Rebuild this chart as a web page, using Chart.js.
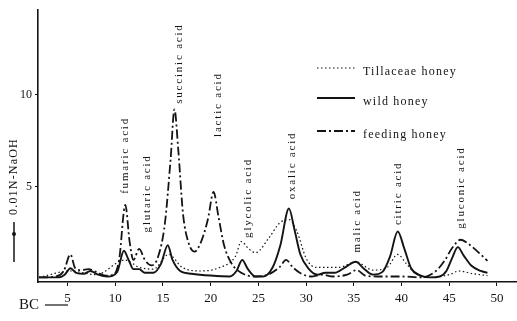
<!DOCTYPE html>
<html>
<head>
<meta charset="utf-8">
<script src="https://cdn.jsdelivr.net/npm/chart.js@4.4.0/dist/chart.umd.min.js"></script>
<style>
  body { margin: 0; background: #fff; }
  canvas { display: block; }
</style>
</head>
<body>
<canvas id="acidChart" width="517" height="321"></canvas>
<script>
// elution volume (x) and titration value (y, ml 0.01N NaOH)
const feedX = [2, 3.8, 4.6, 5.3, 5.8, 6.4, 7.2, 8, 9, 9.8, 10.4, 11.05, 11.5, 11.9, 12.5, 13.1, 13.8, 14.5, 15.2, 15.8, 16.2, 16.6, 17.1, 17.7, 18.3, 19, 19.7, 20.3, 20.8, 21.4, 22.2, 23.2, 24.5, 26, 27.2, 27.9, 28.6, 29.5, 30.5, 31.7, 32.8, 34.3, 35.3, 36.2, 37.5, 40, 42, 43.5, 44.5, 45.3, 46.2, 47.2, 48.3, 49];
const feedY = [0.05, 0.1, 0.4, 1.3, 0.55, 0.45, 0.5, 0.35, 0.15, 0.2, 1.0, 4.0, 2.0, 1.0, 1.6, 1.0, 0.7, 1.2, 3.0, 6.5, 9.2, 7.0, 3.5, 1.9, 1.45, 2.0, 3.2, 4.7, 3.4, 1.8, 0.8, 0.3, 0.1, 0.2, 0.6, 1.0, 0.6, 0.25, 0.1, 0.2, 0.1, 0.2, 0.45, 0.15, 0.1, 0.1, 0.05, 0.35, 0.95, 1.65, 2.1, 1.8, 1.3, 0.95];

const wildX = [2, 4, 4.7, 5.3, 5.9, 6.7, 7.4, 8.2, 9.2, 10.2, 10.9, 11.4, 11.9, 12.5, 13.1, 14, 14.8, 15.5, 16, 16.8, 18, 20, 22, 22.7, 23.3, 23.9, 24.7, 25.5, 26.5, 27.3, 28.2, 28.8, 29.4, 30.3, 31.2, 32, 33, 34.1, 35.2, 36, 37, 38, 38.8, 39.6, 40.3, 41, 42, 43, 44, 44.7, 45.3, 45.9, 46.5, 47.3, 48.3, 49];
const wildY = [0.05, 0.05, 0.2, 0.55, 0.3, 0.25, 0.4, 0.2, 0.1, 0.35, 1.5, 1.0, 0.5, 0.5, 0.3, 0.3, 0.8, 1.8, 1.0, 0.4, 0.25, 0.15, 0.1, 0.4, 1.0, 0.5, 0.1, 0.1, 0.6, 1.8, 3.8, 2.6, 1.3, 0.5, 0.2, 0.3, 0.3, 0.6, 0.9, 0.55, 0.2, 0.35, 1.2, 2.55, 1.6, 0.55, 0.15, 0.05, 0.1, 0.4, 1.1, 1.7, 1.25, 0.7, 0.4, 0.3];

const tiliaX = [2, 5.3, 8, 11, 12.5, 14, 15.6, 17, 19, 21, 22.6, 23.2, 24, 24.7, 26.1, 27.2, 28.2, 29, 30, 31, 32, 33.5, 35.2, 37, 38.5, 39.6, 40.5, 41.5, 43, 45, 46, 47.5, 49];
const tiliaY = [0.05, 0.4, 0.2, 1.0, 0.6, 0.5, 1.3, 0.6, 0.4, 0.6, 1.2, 2.0, 1.6, 1.4, 2.2, 3.0, 3.2, 2.6, 1.1, 0.6, 0.6, 0.6, 0.9, 0.45, 0.6, 1.3, 0.8, 0.25, 0.05, 0.2, 0.4, 0.25, 0.15];

const seriesNames = ['Tillaceae honey', 'wild honey', 'feeding honey'];

const acidNames = ['fumaric acid', 'glutaric acid', 'succinic acid', 'lactic acid', 'glycolic acid', 'oxalic acid', 'malic acid', 'citric acid', 'gluconic acid'];
const acidX = [11.0, 13.3, 16.7, 20.8, 23.9, 28.5, 35.3, 39.6, 46.2];
const acidY = [4.6, 2.5, 9.5, 7.7, 2.2, 4.3, 1.4, 2.9, 2.7];

const xTicks = [5, 10, 15, 20, 25, 30, 35, 40, 45, 50];
const yTicks = [5, 10];

const ink = '#141414';
const serif = "'Liberation Serif', 'DejaVu Serif', serif";

function pts(xs, ys) {
    return xs.map((x, i) => ({ x: x, y: ys[i] }));
}

const acidLabels = {
    id: 'acidLabels',
    afterDatasetsDraw(chart) {
        const ctx = chart.ctx;
        const xs = chart.scales.x, ys = chart.scales.y;
        ctx.save();
        ctx.fillStyle = ink;
        ctx.font = '11px ' + serif;
        ctx.letterSpacing = '1.8px';
        ctx.textAlign = 'left';
        ctx.textBaseline = 'middle';
        acidNames.forEach((name, i) => {
            ctx.save();
            ctx.translate(xs.getPixelForValue(acidX[i]), ys.getPixelForValue(acidY[i]));
            ctx.rotate(-Math.PI / 2);
            ctx.fillText(name, 0, 0);
            ctx.restore();
        });

        // legend block
        ctx.font = '12px ' + serif;
        ctx.letterSpacing = '1.2px';
        chart.data.datasets.forEach((ds, i) => {
            const ly = [68, 98, 131][i];
            ctx.beginPath();
            ctx.setLineDash(ds.borderDash || []);
            ctx.lineWidth = ds.borderWidth;
            ctx.strokeStyle = ink;
            ctx.moveTo(317, ly);
            ctx.lineTo(355, ly);
            ctx.stroke();
            ctx.setLineDash([]);
            ctx.fillText(ds.label, 363, ly + 4);
        });

        // y axis title with arrow
        ctx.save();
        ctx.translate(14, 215);
        ctx.rotate(-Math.PI / 2);
        ctx.font = '12px ' + serif;
        ctx.letterSpacing = '1.2px';
        ctx.fillText('0.01N-NaOH', 0, 0);
        ctx.restore();
        ctx.beginPath();
        ctx.lineWidth = 1.5;
        ctx.moveTo(14, 222);
        ctx.lineTo(14, 262);
        ctx.stroke();
        ctx.beginPath();
        ctx.arc(14, 234, 2, 0, Math.PI * 2);
        ctx.fill();

        // BC label under the axis
        ctx.letterSpacing = '0px';
        ctx.font = '15px ' + serif;
        ctx.fillText('BC', 19, 305);
        ctx.beginPath();
        ctx.lineWidth = 1.2;
        ctx.moveTo(45, 305);
        ctx.lineTo(68, 305);
        ctx.stroke();
        ctx.restore();
    }
};

new Chart(document.getElementById('acidChart').getContext('2d'), {
    type: 'line',
    data: {
        datasets: [
            {
                label: seriesNames[0],
                data: pts(tiliaX, tiliaY),
                borderColor: ink,
                borderWidth: 1.2,
                borderDash: [1.5, 2.5]
            },
            {
                label: seriesNames[1],
                data: pts(wildX, wildY),
                borderColor: ink,
                borderWidth: 1.9
            },
            {
                label: seriesNames[2],
                data: pts(feedX, feedY),
                borderColor: ink,
                borderWidth: 1.8,
                borderDash: [9, 3, 2, 3]
            }
        ]
    },
    options: {
        responsive: false,
        animation: false,
        layout: { padding: 0 },
        elements: {
            point: { radius: 0 },
            line: { cubicInterpolationMode: 'monotone', fill: false }
        },
        plugins: {
            legend: { display: false },
            tooltip: { enabled: false }
        },
        scales: {
            x: {
                type: 'linear',
                min: 1.9,
                max: 52.1,
                afterBuildTicks: s => { s.ticks = xTicks.map(v => ({ value: v })); },
                afterFit: s => { s.height = 39; },
                border: { color: ink, width: 1.5 },
                grid: { drawOnChartArea: false, tickLength: 4, color: ink },
                ticks: { color: ink, font: { family: serif, size: 13 }, padding: 5, maxRotation: 0 }
            },
            y: {
                min: -0.2,
                max: 14.6,
                afterBuildTicks: s => { s.ticks = yTicks.map(v => ({ value: v })); },
                afterFit: s => { s.width = 38; },
                border: { color: ink, width: 1.6 },
                grid: { drawOnChartArea: false, tickLength: 3, color: ink },
                ticks: { color: ink, font: { family: serif, size: 12 }, padding: 3 }
            }
        }
    },
    plugins: [acidLabels]
});
</script>
</body>
</html>
